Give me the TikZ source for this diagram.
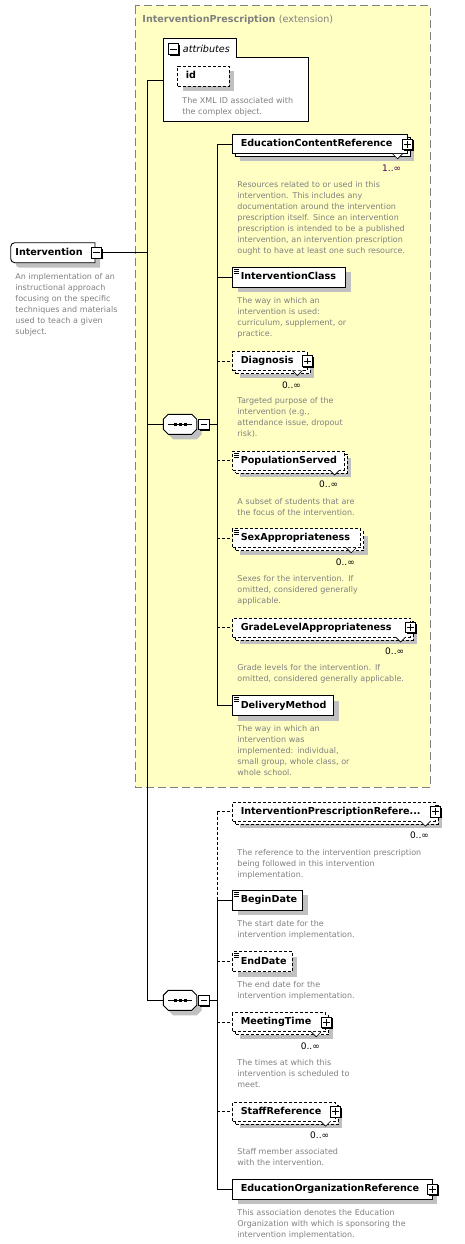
\documentclass[tikz,border=0pt]{standalone}
\usepackage{fontspec}
\setmainfont{DejaVu Sans}
\usepackage{tikz}
\usetikzlibrary{shadows}

\definecolor{extfill}{RGB}{255,255,196}
\definecolor{docgray}{RGB}{128,128,128}
\definecolor{shadegray}{RGB}{192,192,192}
\definecolor{multone}{RGB}{72,0,72}

\newcommand{\namefont}{\fontsize{9.6}{11}\selectfont\bfseries}
\newcommand{\docfont}{\fontsize{8}{11}\selectfont}
\newcommand{\multfont}{\fontsize{9}{11}\selectfont}

\begin{document}
\begin{tikzpicture}[x=1pt,y=-1pt,line width=0.9pt,
    shad/.style={drop shadow={shadow xshift=5pt,shadow yshift=-5pt,fill=shadegray,opacity=1}},
    elembox/.style={draw,fill=white,anchor=west,align=left,font=\namefont,inner xsep=8pt,inner ysep=0pt,
      text height=7pt,text depth=2pt,minimum height=20pt,shad},
    multibox/.style={draw,fill=white,anchor=west,align=left,font=\namefont,inner xsep=8pt,inner ysep=0pt,
      text height=7pt,text depth=2pt,minimum height=19pt,
      drop shadow={shadow xshift=7pt,shadow yshift=-7pt,fill=shadegray,opacity=1},
      copy shadow={shadow xshift=3pt,shadow yshift=-3pt}},
    opt/.style={dash pattern=on 3pt off 2pt},
    simpletype/.style={path picture={\foreach \d in {2,4,6}
      \draw[solid,line width=0.7pt] ([shift={(1.5pt,-\d pt)}]path picture bounding box.north west) -- ++(5,0);}},
    iconbox/.style={draw,solid,fill=white,minimum size=10.5pt,inner sep=0pt,
      drop shadow={shadow xshift=1.3pt,shadow yshift=-1.3pt,fill=black,opacity=1}},
    plusicon/.style={iconbox,path picture={
      \draw ([xshift=-3.3pt]path picture bounding box.center) -- ([xshift=3.3pt]path picture bounding box.center)
            ([yshift=-3.3pt]path picture bounding box.center) -- ([yshift=3.3pt]path picture bounding box.center);}},
    minusicon/.style={iconbox,path picture={
      \draw ([xshift=-3.3pt]path picture bounding box.center) -- ([xshift=3.3pt]path picture bounding box.center);}},
    seqshape/.style={draw,fill=white,shad},
    seqbox/.style={minimum width=33.4pt,minimum height=20pt,inner sep=0pt,path picture={
      \draw ([xshift=-12pt]path picture bounding box.center) -- ([xshift=12pt]path picture bounding box.center);
      \foreach \dx in {-5,0,5}
        \fill[black] ([xshift=\dx pt]path picture bounding box.center) +(-1.5,-1.5) rectangle +(1.5,1.5);}},
    doctext/.style={font=\docfont,text=docgray,anchor=base west,align=left,text width=230pt,inner sep=0pt},
    multtext/.style={font=\multfont,anchor=east,inner sep=0pt},
    notch/.style={fill=white,line width=0.6pt}]
  \useasboundingbox (0,0) rectangle (465,1244);

  %extension
  \draw[dash pattern=on 8pt off 4pt,draw=docgray,fill=extfill,line width=1pt] (135.3,5.7) rectangle (430,787.3);
  \node[anchor=west,font=\namefont,text=docgray,inner sep=0pt] (exttitle) at (142,19.5)
    {InterventionPrescription {\mdseries (extension)}};

  %attributes
  \draw[fill=white] (163.3,38.3) -- (236,38.3) -- (236,57.3) -- (308.3,57.3) -- (308.3,121.3) -- (163.3,121.3) -- cycle;
  \node[minusicon] (attrm) at (173.5,49.2) {};
  \node[anchor=west,font=\fontsize{9.6}{11}\selectfont\itshape,inner sep=0pt] (attrtitle) at (182.5,48.5) {attributes};
  \node[elembox,opt,text width=35.4pt] (id) at (177.3,76.3) {id};
  \node[doctext] (iddoc) at (182,103) {The XML ID associated with\\the complex object.};

  %root
  \draw[fill=white,shad] (50,262.7) [rounded corners=4pt] -- (10.7,262.7) -- (10.7,242.7) -- (50,242.7)
    [sharp corners] -- (95,242.7) -- (95,262.7) -- cycle;
  \node[anchor=west,font=\namefont,inner xsep=4.3pt,inner ysep=0pt,text width=76pt,text height=7pt,text depth=2pt,
    minimum height=20pt] (root) at (10.7,252.7) {Intervention};
  \node[minusicon] (rootm) at (root.east) {};
  \node[doctext] (rootdoc) at (15,279.7) {An implementation of an\\instructional approach\\focusing on the specific\\techniques and materials\\used to teach a given\\subject.};

  %sequences
  \foreach \y in {424.3,1000.3}
    \draw[seqshape] (168.3,\y-10) -- (191.7,\y-10) -- (196.7,\y-5) -- (196.7,\y+5) -- (191.7,\y+10)
      -- (168.3,\y+10) -- (163.3,\y+5) -- (163.3,\y-5) -- cycle;
  \node[seqbox] (seq1) at (180,424.3) {};
  \node[minusicon,anchor=west] (seq1m) at ([xshift=1pt]seq1.east) {};
  \node[seqbox] (seq2) at (180,1000.3) {};
  \node[minusicon,anchor=west] (seq2m) at ([xshift=1pt]seq2.east) {};

  %elements
  \node[multibox,text width=158.4pt] (ecr) at (232.3,144.3) {EducationContentReference};
  \node[elembox,simpletype,text width=97pt] (ic) at (232.3,277.3) {InterventionClass};
  \node[multibox,opt,text width=58.2pt] (diag) at (232.3,361) {Diagnosis};
  \node[multibox,opt,simpletype,text width=95.4pt] (ps) at (232.3,460.5) {PopulationServed};
  \node[multibox,opt,simpletype,text width=112pt] (sa) at (232.3,538.3) {SexAppropriateness};
  \node[multibox,opt,text width=161.4pt] (gla) at (232.3,627.5) {GradeLevelAppropriateness};
  \node[elembox,simpletype,text width=85pt] (dm) at (232.3,705.5) {DeliveryMethod};

  \node[multibox,opt,text width=186.2pt] (ipr) at (232.3,811.7) {InterventionPrescriptionRefere...};
  \node[elembox,simpletype,text width=54pt] (bd) at (232.3,900.3) {BeginDate};
  \node[elembox,opt,simpletype,text width=43.4pt] (ed) at (232.3,961.7) {EndDate};
  \node[multibox,opt,text width=77pt] (mt) at (232.3,1022.3) {MeetingTime};
  \node[multibox,opt,text width=86.4pt] (sr) at (232.3,1111.7) {StaffReference};
  \node[elembox,text width=183.4pt] (eor) at (232.3,1189.3) {EducationOrganizationReference};

  \foreach \n in {ecr,diag,ps,sa,gla,ipr,mt,sr}
    \draw[notch] ([xshift=-15pt,yshift=-9.5pt]\n.east) -- ++(5,5) -- ++(5,-5);
  \foreach \n in {ecr,diag,gla,ipr,mt,sr,eor}
    \node[plusicon] (\n-plus) at (\n.east) {};

  %multiplicity
  \node[multtext,text=multone] (ecr-mult) at ([xshift=-6pt,yshift=-24pt]ecr.east) {1..∞};
  \foreach \n in {diag,ps,sa,gla,ipr,mt,sr}
    \node[multtext] (\n-mult) at ([xshift=-6pt,yshift=-24pt]\n.east) {0..∞};

  %documentation
  \node[doctext] (ecrdoc) at (237,187.3) {Resources related to or used in this\\intervention. This includes any\\documentation around the intervention\\prescription itself. Since an intervention\\prescription is intended to be a published\\intervention, an intervention prescription\\ought to have at least one such resource.};
  \node[doctext] (icdoc) at (237,303.3) {The way in which an\\intervention is used:\\curriculum, supplement, or\\practice.};
  \node[doctext] (diagdoc) at (237,403.3) {Targeted purpose of the\\intervention (e.g.,\\attendance issue, dropout\\risk).};
  \node[doctext] (psdoc) at (237,504) {A subset of students that are\\the focus of the intervention.};
  \node[doctext] (sadoc) at (237,581.3) {Sexes for the intervention. If\\omitted, considered generally\\applicable.};
  \node[doctext] (gladoc) at (237,670.7) {Grade levels for the intervention. If\\omitted, considered generally applicable.};
  \node[doctext] (dmdoc) at (237,731.7) {The way in which an\\intervention was\\implemented: individual,\\small group, whole class, or\\whole school.};
  \node[doctext] (iprdoc) at (237,855) {The reference to the intervention prescription\\being followed in this intervention\\implementation.};
  \node[doctext] (bddoc) at (237,926.7) {The start date for the\\intervention implementation.};
  \node[doctext] (eddoc) at (237,987.3) {The end date for the\\intervention implementation.};
  \node[doctext] (mtdoc) at (237,1065.7) {The times at which this\\intervention is scheduled to\\meet.};
  \node[doctext] (srdoc) at (237,1154.7) {Staff member associated\\with the intervention.};
  \node[doctext] (eordoc) at (237,1215.7) {This association denotes the Education\\Organization with which is sponsoring the\\intervention implementation.};

  %lines
  \coordinate (trunk) at (147.7,252.7);
  \coordinate (attrhook) at (163.3,80.5);
  \coordinate (bus1) at (217.3,424.3);
  \coordinate (bus2) at (217.3,1000.3);
  \draw (rootm.east) -- (trunk);
  \draw (attrhook) -| (trunk) |- (seq2.west);
  \draw (trunk |- seq1.west) -- (seq1.west);
  \draw (seq1m.east) -- (bus1);
  \draw (bus1 |- ecr.west) -- (bus1 |- dm.west);
  \foreach \n in {ecr,ic,dm}
    \draw (bus1 |- \n.west) -- (\n.west);
  \foreach \n in {diag,ps,sa,gla}
    \draw[opt] (bus1 |- \n.west) -- (\n.west);
  \draw (seq2m.east) -- (bus2);
  \draw[opt] (bus2 |- ipr.west) -- (bus2 |- bd.west);
  \draw (bus2 |- bd.west) -- (bus2 |- eor.west);
  \foreach \n in {bd,eor}
    \draw (bus2 |- \n.west) -- (\n.west);
  \foreach \n in {ipr,ed,mt,sr}
    \draw[opt] (bus2 |- \n.west) -- (\n.west);
\end{tikzpicture}
\end{document}
